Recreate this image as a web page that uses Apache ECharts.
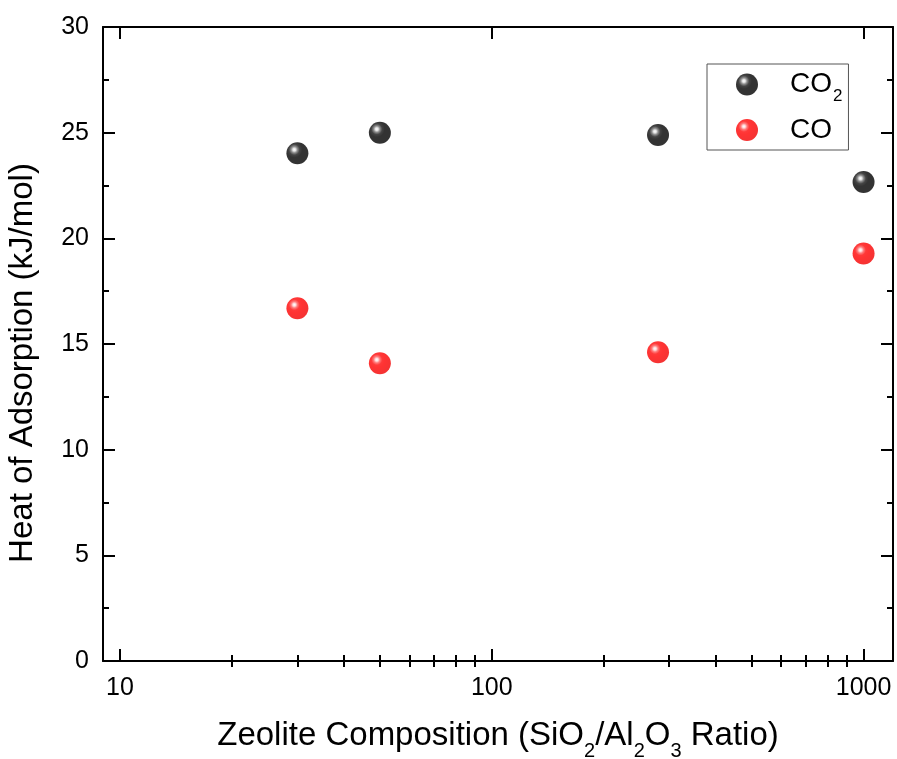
<!DOCTYPE html>
<html><head><meta charset="utf-8">
<script src="https://cdn.jsdelivr.net/npm/echarts@6/dist/echarts.min.js"></script>
<style>html,body{margin:0;padding:0;background:#fff}#c{width:897px;height:759px}</style>
</head><body><div id="c"></div>
<script>
// ---- data ----
const ratios = [30, 50, 280, 1000];
const co2Heat = [24.03, 25.0, 24.89, 22.67];
const coHeat = [16.69, 14.09, 14.61, 19.28];
const seriesNames = ['CO2', 'CO'];
const xMajorTicks = [10, 100, 1000];
const xMinorTicks = [20, 30, 40, 50, 60, 70, 80, 90, 200, 300, 400, 500, 600, 700, 800, 900];
const xMin = 9, xMax = 1200;
const yMin = 0, yMax = 30, yStep = 5;

const FONT = "'Liberation Sans', Arial, sans-serif";
const BLACK_BALL = {type:'radial', x:0.36, y:0.34, r:0.72, colorStops:[
  {offset:0, color:'#ffffff'},{offset:0.09, color:'#e0e0e0'},{offset:0.2, color:'#707070'},
  {offset:0.34, color:'#151515'},{offset:0.5, color:'#000000'},{offset:1, color:'#000000'}]};
const RED_BALL = {type:'radial', x:0.36, y:0.34, r:0.72, colorStops:[
  {offset:0, color:'#ffffff'},{offset:0.09, color:'#ffd4d4'},{offset:0.2, color:'#ff5a5a'},
  {offset:0.34, color:'#ff0808'},{offset:0.5, color:'#ff0000'},{offset:1, color:'#f00000'}]};

function xAxis(pos, ticks, len, opts) {
  return Object.assign({
    type: 'log', logBase: 10, position: pos, min: xMin, max: xMax,
    axisLine: {show: true, onZero: false, lineStyle: {color: '#000', width: 2}},
    axisTick: {show: true, inside: true, length: len, customValues: ticks, lineStyle: {color: '#000', width: 2}},
    axisLabel: {show: false},
    splitLine: {show: false}, minorTick: {show: false}, minorSplitLine: {show: false}
  }, opts || {});
}
function yAxis(pos, opts) {
  return Object.assign({
    type: 'value', position: pos, min: yMin, max: yMax, interval: yStep,
    axisLine: {show: true, onZero: false, lineStyle: {color: '#000', width: 2}},
    axisTick: {show: true, inside: true, length: 12, lineStyle: {color: '#000', width: 2}},
    minorTick: {show: true, splitNumber: 2, length: 6, lineStyle: {color: '#000', width: 2}},
    axisLabel: {show: false},
    splitLine: {show: false}, minorSplitLine: {show: false}
  }, opts || {});
}

const chart = echarts.init(document.getElementById('c'), null, {renderer: 'canvas'});
chart.setOption({
  animation: false,
  backgroundColor: '#fff',
  textStyle: {fontFamily: FONT, color: '#000'},
  grid: {left: 103, right: 4, top: 27, bottom: 98, containLabel: false, outerBoundsMode: 'none'},
  xAxis: [
    xAxis('bottom', xMajorTicks, 12, {
      axisLabel: {show: true, customValues: xMajorTicks, formatter: v => String(v),
        fontSize: 25, color: '#000', fontFamily: FONT, margin: 15},
      name: '{m|Zeolite Composition (SiO}{s|2}{m|/Al}{s|2}{m|O}{s|3}{m| Ratio)}', nameLocation: 'middle', nameGap: 58,
      nameTextStyle: {fontSize: 33, color: '#000', fontFamily: FONT,
        rich: {
          m: {fontSize: 33, lineHeight: 33, verticalAlign: 'top', color: '#000', fontFamily: FONT},
          s: {fontSize: 20, verticalAlign: 'bottom', padding: [22, 0, 0, 0], color: '#000', fontFamily: FONT}
        }}
    }),
    xAxis('bottom', xMinorTicks, 6, {axisLine: {show: false}}),
    xAxis('top', xMajorTicks, 12),
    xAxis('top', xMinorTicks, 6, {axisLine: {show: false}})
  ],
  yAxis: [
    yAxis('left', {
      axisLabel: {show: true, fontSize: 25, color: '#000', fontFamily: FONT, margin: 14},
      name: 'Heat of Adsorption (kJ/mol)', nameLocation: 'middle', nameGap: 64,
      nameTextStyle: {fontSize: 33, color: '#000', fontFamily: FONT, padding: [0, 38, 0, 0]}
    }),
    yAxis('right')
  ],
  legend: {
    orient: 'vertical', left: 707, top: 64, padding: [0, 6, 6, 29], itemGap: 11,
    itemWidth: 22, itemHeight: 22, borderColor: '#555', borderWidth: 1, borderRadius: 0,
    data: seriesNames,
    formatter: n => n === 'CO2' ? '{m|CO}{s|2}' : '{n|CO}',
    textStyle: {padding: [0, 0, 0, 27], rich: {
      m: {fontSize: 28, lineHeight: 28, verticalAlign: 'top', padding: [6, 0, 0, 0], color: '#000', fontFamily: FONT},
      n: {fontSize: 28, lineHeight: 28, color: '#000', fontFamily: FONT},
      s: {fontSize: 17, verticalAlign: 'bottom', padding: [24, 0, 0, 1], color: '#000', fontFamily: FONT}
    }}
  },
  series: [
    {name: seriesNames[0], type: 'scatter', xAxisIndex: 0, yAxisIndex: 0, symbol: 'circle', symbolSize: 22,
     itemStyle: {color: BLACK_BALL}, emphasis: {disabled: true},
     data: ratios.map((r, i) => [r, co2Heat[i]])},
    {name: seriesNames[1], type: 'scatter', xAxisIndex: 0, yAxisIndex: 0, symbol: 'circle', symbolSize: 22,
     itemStyle: {color: RED_BALL}, emphasis: {disabled: true},
     data: ratios.map((r, i) => [r, coHeat[i]])}
  ]
});
</script></body></html>
